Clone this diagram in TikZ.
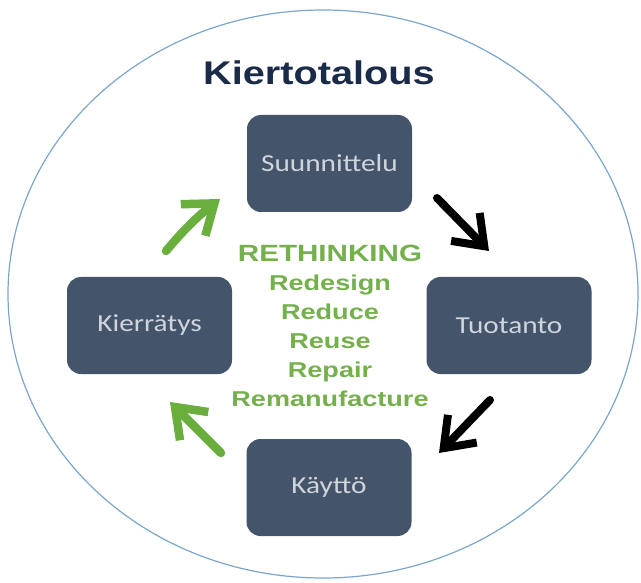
\documentclass[tikz,border=0pt]{standalone}
\usepackage{fontspec}
\usetikzlibrary{arrows.meta,shapes.geometric}
\newfontfamily\headfont[FakeStretch=1.21]{Liberation Sans}
\newfontfamily\greenfont[FakeStretch=1.26]{Liberation Sans}
\newfontfamily\boxfont[FakeStretch=1.2]{Carlito}
\definecolor{boxfill}{HTML}{44546A}
\definecolor{boxtext}{HTML}{D0D5DD}
\definecolor{titlecol}{HTML}{1A2B4A}
\definecolor{ringcol}{HTML}{7AA6CE}
\definecolor{leafgreen}{HTML}{74B04C}
\definecolor{arrgreen}{HTML}{6AAE3E}
\tikzset{
  stagebox/.style={rounded corners=14pt, fill=boxfill, minimum width=165pt,
    minimum height=97pt, inner sep=0pt, text=boxtext,
    font=\boxfont\fontsize{24.4}{28}\selectfont},
  greenarrow/.style={line width=8.5pt, draw=arrgreen, line cap=round,
    -{Straight Barb[length=27pt,width=40pt]}},
  blackarrow/.style={line width=8pt, draw=black, line cap=round,
    -{Straight Barb[length=27pt,width=40pt]}},
}
\begin{document}
\begin{tikzpicture}[x=1pt,y=-1pt]
\useasboundingbox (0,0) rectangle (641,583);
\node[ellipse, draw=ringcol, line width=1.2pt, minimum width=630pt,
  minimum height=568pt, inner sep=0pt] (ring) at (323,294) {};
\node[anchor=base, inner sep=0pt, text=titlecol,
  font=\headfont\bfseries\fontsize{32.8}{36}\selectfont] (title) at (319,85) {Kiertotalous};
\node[stagebox] (suun) at (329.5,163.5) {Suunnittelu};
\node[stagebox] (tuot) at (509,325.5) {Tuotanto};
\node[stagebox] (kayt) at (329,487.5) {Käyttö};
\node[stagebox] (kier) at (149.5,325.5) {Kierrätys};
\node[anchor=north, inner sep=0pt, align=center, text=leafgreen,
  font=\greenfont\bfseries\fontsize{21.5}{29}\selectfont] (rethink) at (330,245.2)
  {{\fontsize{23.5}{29}\selectfont RETHINKING}\\Redesign\\Reduce\\Reuse\\Repair\\Remanufacture};
\coordinate (g1s) at (166,251);
\coordinate (g1e) at (220,199);
\coordinate (b1s) at (437,198);
\coordinate (b1e) at (489,251);
\coordinate (b2s) at (490,400);
\coordinate (b2e) at (439,453);
\coordinate (g2s) at (221,453);
\coordinate (g2e) at (170,402);
\draw[greenarrow] (g1s) to[bend left=6] (g1e);
\draw[blackarrow] (b1s) -- (b1e);
\draw[blackarrow] (b2s) -- (b2e);
\draw[greenarrow] (g2s) -- (g2e);
\end{tikzpicture}
\end{document}
